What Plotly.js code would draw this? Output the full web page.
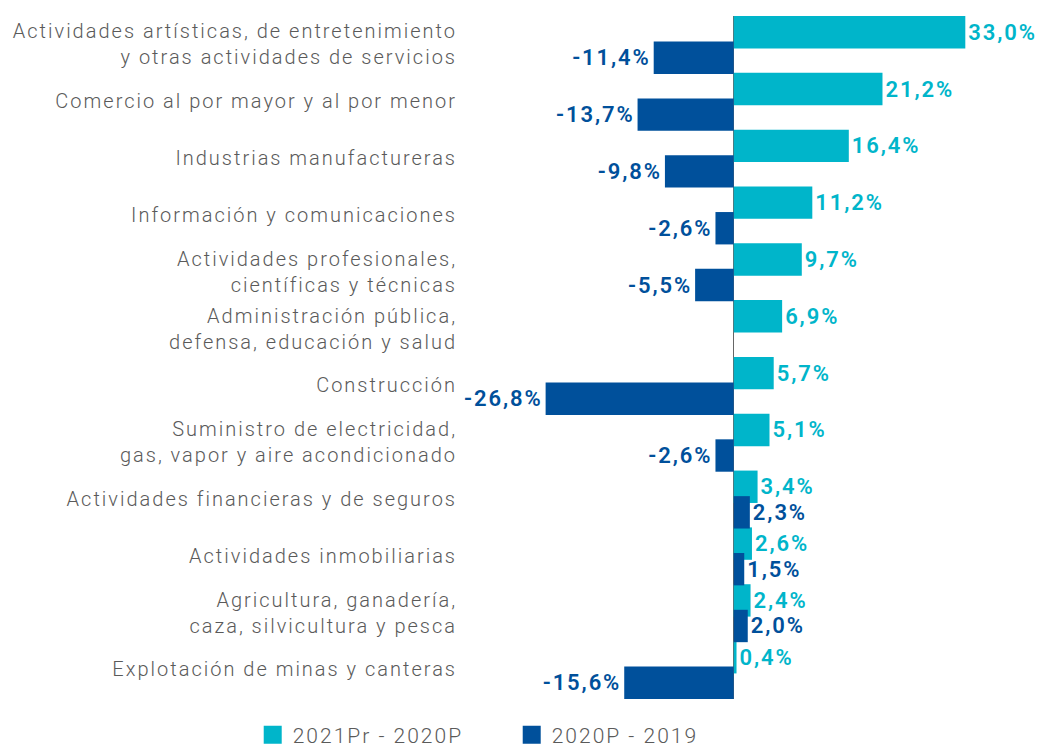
<!DOCTYPE html>
<html>
<head>
<meta charset="utf-8">
<script src="https://cdn.plot.ly/plotly-3.0.1.min.js"></script>
<style>
  html, body { margin: 0; padding: 0; background: #fff; }
  #chart { width: 1039px; height: 756px; }
  .ytick text { letter-spacing: 2px; }
  .legendtext { letter-spacing: 2px; }
  text.bartext { letter-spacing: 1.9px; }
  .legendpoints path { transform: translate(20px, 0px) scale(1.5); }
</style>
</head>
<body>
<div id="chart"></div>
<script>
// ---- data ----
const categories = [
  "Actividades artísticas, de entretenimiento<br>y otras actividades de servicios",
  "Comercio al por mayor y al por menor",
  "Industrias manufactureras",
  "Información y comunicaciones",
  "Actividades profesionales,<br>científicas y técnicas",
  "Administración pública,<br>defensa, educación y salud",
  "Construcción",
  "Suministro de electricidad,<br>gas, vapor y aire acondicionado",
  "Actividades financieras y de seguros",
  "Actividades inmobiliarias",
  "Agricultura, ganadería,<br>caza, silvicultura y pesca",
  "Explotación de minas y canteras"
];
const seriesNames = ["2021Pr - 2020P", "2020P - 2019"];
const values2021 = [33.0, 21.2, 16.4, 11.2, 9.7, 6.9, 5.7, 5.1, 3.4, 2.6, 2.4, 0.4];
const values2020 = [-11.4, -13.7, -9.8, -2.6, -5.5, null, -26.8, -2.6, 2.3, 1.5, 2.0, -15.6];

// ---- style ----
const cyan = "#00B5CA";
const navy = "#00509B";
const gray = "#5a5a5a";
const fontFam = "Roboto, 'Liberation Sans', Arial, sans-serif";

const fmt = v => (v === null ? "" : v.toFixed(1).replace(".", ",") + "%");

const traces = [
  {
    type: "bar", orientation: "h", name: seriesNames[0],
    y: categories, x: values2021,
    marker: { color: cyan },
    width: 0.57, offset: -0.5,
    text: values2021.map(fmt), textposition: "outside",
    textfont: { color: cyan, size: 22, family: fontFam, weight: 600 },
    cliponaxis: false, hoverinfo: "none"
  },
  {
    type: "bar", orientation: "h", name: seriesNames[1],
    y: categories, x: values2020,
    marker: { color: navy },
    width: 0.57, offset: -0.05,
    text: values2020.map(fmt), textposition: "outside",
    textfont: { color: navy, size: 22, family: fontFam, weight: 600 },
    cliponaxis: false, hoverinfo: "none"
  }
];

const layout = {
  width: 1039, height: 756,
  margin: { l: 460, r: 0, t: 16, b: 48 },
  paper_bgcolor: "#fff", plot_bgcolor: "#fff",
  barmode: "overlay",
  showlegend: true,
  font: { family: fontFam, color: gray, size: 20 },
  xaxis: {
    range: [-39, 43.5], showgrid: false, showticklabels: false, ticks: "",
    zeroline: true, zerolinecolor: "#666666", zerolinewidth: 1.5, fixedrange: true
  },
  yaxis: {
    type: "category", autorange: "reversed", showgrid: false, zeroline: false,
    ticks: "", ticklabelstandoff: 2,
    tickfont: { family: fontFam, size: 20, color: gray, weight: 300 }, fixedrange: true
  },
  legend: {
    orientation: "h", x: -0.358, xanchor: "left", y: -0.053, yanchor: "middle",
    font: { family: fontFam, size: 21, color: gray, weight: 300 },
    itemwidth: 30, tracegroupgap: 0, traceorder: "normal",
    entrywidth: 214, entrywidthmode: "pixels"
  }
};

Plotly.newPlot("chart", traces, layout, { displayModeBar: false, staticPlot: true });
</script>
</body>
</html>
